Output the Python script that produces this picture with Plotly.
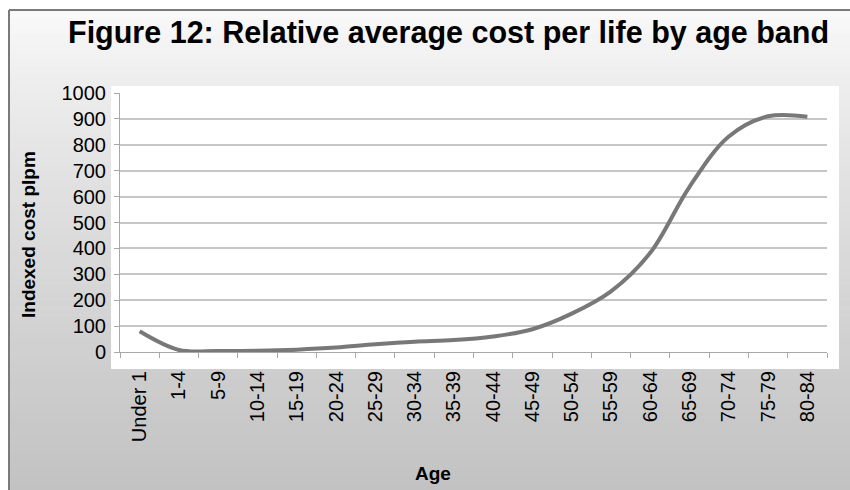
import plotly.graph_objects as go

# Age bands and indexed cost per life per month
age_bands = ["Under 1", "1-4", "5-9", "10-14", "15-19", "20-24", "25-29", "30-34",
             "35-39", "40-44", "45-49", "50-54", "55-59", "60-64", "65-69",
             "70-74", "75-79", "80-84"]
indexed_cost = [80, 8, 4, 5, 9, 17, 30, 40, 46, 60, 88, 148, 234, 383, 638, 832, 910, 908]
y_ticks = [0, 100, 200, 300, 400, 500, 600, 700, 800, 900, 1000]

W, H = 850, 490
L, R, T, B = 120, 23, 93, 138
PW, PH = W - L - R, H - T - B


def fx(px):
    """Horizontal pixel -> paper coordinate."""
    return (px - L) / PW


def fy(py):
    """Vertical pixel (from top) -> paper coordinate."""
    return (H - B - py) / PH


FONT = "Liberation Sans, Arial, sans-serif"

shapes = []
# vertical grey gradient behind the chart
n_bands = 60
top, bottom = 10, 492
for i in range(n_bands):
    y0 = top + (bottom - top) * i / n_bands
    y1 = top + (bottom - top) * (i + 1) / n_bands + 0.6
    t = (i + 0.5) / n_bands
    g = int(round(250 - 56 * t ** 0.8))
    shapes.append(dict(type="rect", xref="paper", yref="paper", layer="below",
                       x0=fx(9), x1=fx(852), y0=fy(y1), y1=fy(y0),
                       line=dict(width=0), fillcolor=f"rgb({g},{g},{g})"))
# white plot panel
shapes.append(dict(type="rect", xref="paper", yref="paper", layer="below",
                   x0=fx(111), x1=fx(839), y0=fy(369), y1=fy(86),
                   line=dict(width=0), fillcolor="white"))
# outer frame (top and left edges)
shapes.append(dict(type="line", xref="paper", yref="paper", layer="above",
                   x0=fx(9), x1=fx(852), y0=fy(10), y1=fy(10),
                   line=dict(color="#7a7a7a", width=2)))
shapes.append(dict(type="line", xref="paper", yref="paper", layer="above",
                   x0=fx(9), x1=fx(9), y0=fy(10), y1=fy(492),
                   line=dict(color="#7a7a7a", width=2)))

fig = go.Figure()
fig.add_trace(go.Scatter(
    x=age_bands, y=indexed_cost, mode="lines",
    line=dict(color="#787878", width=4, shape="spline", smoothing=1.0),
    hoverinfo="x+y", showlegend=False,
))

fig.update_layout(
    width=W, height=H,
    margin=dict(l=L, r=R, t=T, b=B),
    paper_bgcolor="white",
    plot_bgcolor="rgba(0,0,0,0)",
    font=dict(family=FONT, color="#000000"),
    shapes=shapes,
    xaxis=dict(
        type="category", range=[-0.5, len(age_bands) - 0.5],
        tickson="boundaries", ticks="outside", ticklen=5, tickwidth=1,
        tickcolor="#a8a8a8", showline=True, linecolor="#a8a8a8", linewidth=1,
        showgrid=False, tickangle=-90, tickfont=dict(size=20, family=FONT),
        ticklabelstandoff=10,
    ),
    yaxis=dict(
        range=[0, 1000], tickvals=y_ticks, ticks="outside", ticklen=5,
        tickcolor="#a8a8a8", showline=True, linecolor="#a8a8a8", linewidth=1,
        showgrid=True, gridcolor="#c6c6c6", gridwidth=2, zeroline=False,
        tickfont=dict(size=20, family=FONT), ticklabelstandoff=4,
    ),
    annotations=[
        dict(text="<b>Figure 12: Relative average cost per life by age band</b>",
             xref="paper", yref="paper", x=fx(448), y=fy(32),
             xanchor="center", yanchor="middle", showarrow=False,
             font=dict(size=30.5, family=FONT, color="#000000")),
        dict(text="<b>Indexed cost plpm</b>", xref="paper", yref="paper",
             x=fx(28), y=fy(235), xanchor="center", yanchor="middle",
             textangle=-90, showarrow=False,
             font=dict(size=19, family=FONT, color="#000000")),
        dict(text="<b>Age</b>", xref="paper", yref="paper",
             x=fx(433), y=fy(473), xanchor="center", yanchor="middle",
             showarrow=False, font=dict(size=19, family=FONT, color="#000000")),
    ],
)

fig.write_html("out.html")
